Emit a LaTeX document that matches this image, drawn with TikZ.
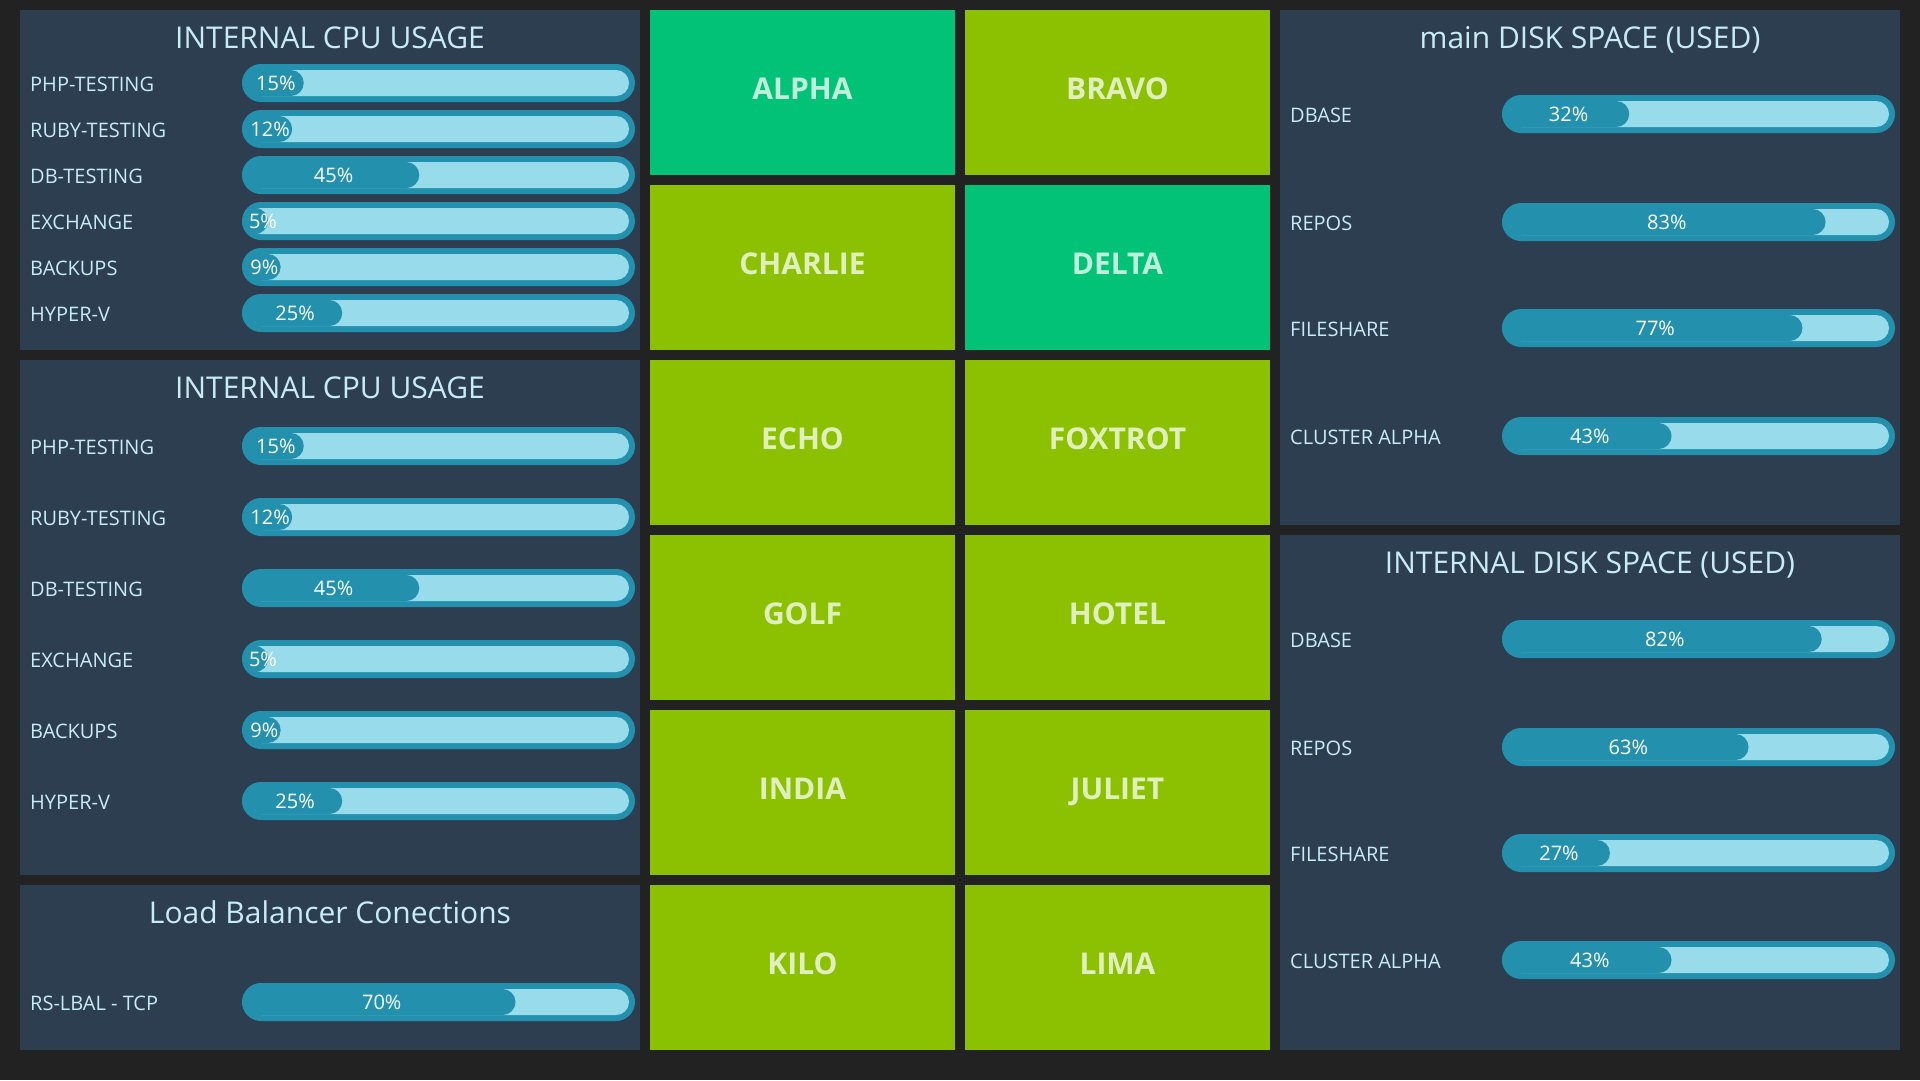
\documentclass[tikz,border=0pt]{standalone}
\usepackage{fontspec}
\setmainfont{Open Sans}
\definecolor{bgdark}{HTML}{222222}
\definecolor{panelblue}{HTML}{2C3E50}
\definecolor{tilegreen}{HTML}{01C277}
\definecolor{tilelime}{HTML}{8BC100}
\definecolor{barblue}{HTML}{2391AD}
\definecolor{barlight}{HTML}{98DBEA}
\definecolor{paneltext}{HTML}{C8ECF5}

\tikzset{
  panel/.style={fill=panelblue},
  title/.style={text=paneltext, anchor=base, inner sep=0pt, font=\fontsize{30}{34}\selectfont},
  lbl/.style={text=paneltext, anchor=west, inner sep=0pt, font=\fontsize{20}{24}\selectfont},
  pct/.style={text=white, inner sep=0pt, font=\fontsize{20}{24}\selectfont},
  tile/.style={minimum width=305pt, minimum height=165pt, inner sep=0pt,
    text=white, text opacity=0.75, text height=21pt, text depth=8pt,
    font=\fontsize{30}{34}\selectfont\bfseries},
}

% bar: name, x, y, percent
\newcommand{\usagebar}[4]{%
  \pgfmathsetmacro{\barw}{max(#4*3.85+4,26)}
  \pgfmathsetmacro{\barc}{max(\barw/2+3,21)}
  \fill[barblue, rounded corners=19pt] (#2,#3-19) rectangle ++(393,38);
  \fill[barlight, rounded corners=13pt] (#2+6,#3-13) rectangle ++(381,26);
  \fill[barblue, rounded corners=13pt] (#2,#3-13) rectangle ++(\barw,26);
  \node[pct] (#1) at (#2+\barc,#3) {#4\%};
}

\begin{document}
\begin{tikzpicture}[x=1pt,y=-1pt]
\fill[bgdark] (0,0) rectangle (1920,1080);
\useasboundingbox (0,0) rectangle (1920,1080);

%internal cpu usage
\begin{scope}
\fill[panel] (20,10) rectangle (640,350);
\node[title] (cpua) at (330,48) {INTERNAL CPU USAGE};

\node[lbl] (phpa) at (30,84) {PHP-TESTING};
\usagebar{phpapct}{242}{83}{15}
\node[lbl] (rubya) at (30,130) {RUBY-TESTING};
\usagebar{rubyapct}{242}{129}{12}
\node[lbl] (dba) at (30,176) {DB-TESTING};
\usagebar{dbapct}{242}{175}{45}
\node[lbl] (exa) at (30,222) {EXCHANGE};
\usagebar{exapct}{242}{221}{5}
\node[lbl] (bka) at (30,268) {BACKUPS};
\usagebar{bkapct}{242}{267}{9}
\node[lbl] (hva) at (30,314) {HYPER-V};
\usagebar{hvapct}{242}{313}{25}
\end{scope}

%internal cpu usage, second
\begin{scope}
\fill[panel] (20,360) rectangle (640,875);
\node[title] (cpub) at (330,398) {INTERNAL CPU USAGE};

\node[lbl] (phpb) at (30,447) {PHP-TESTING};
\usagebar{phpbpct}{242}{446}{15}
\node[lbl] (rubyb) at (30,518) {RUBY-TESTING};
\usagebar{rubybpct}{242}{517}{12}
\node[lbl] (dbb) at (30,589) {DB-TESTING};
\usagebar{dbbpct}{242}{588}{45}
\node[lbl] (exb) at (30,660) {EXCHANGE};
\usagebar{exbpct}{242}{659}{5}
\node[lbl] (bkb) at (30,731) {BACKUPS};
\usagebar{bkbpct}{242}{730}{9}
\node[lbl] (hvb) at (30,802) {HYPER-V};
\usagebar{hvbpct}{242}{801}{25}
\end{scope}

%load balancer
\begin{scope}
\fill[panel] (20,885) rectangle (640,1050);
\node[title] (lbal) at (330,923) {Load Balancer Conections};

\node[lbl] (tcp) at (30,1003) {RS-LBAL - TCP};
\usagebar{tcppct}{242}{1002}{70}
\end{scope}

%tiles
\node[tile, fill=tilegreen] (alpha) at (802.5,92.5) {ALPHA};
\node[tile, fill=tilelime] (bravo) at (1117.5,92.5) {BRAVO};
\node[tile, fill=tilelime] (charlie) at (802.5,267.5) {CHARLIE};
\node[tile, fill=tilegreen] (delta) at (1117.5,267.5) {DELTA};
\node[tile, fill=tilelime] (echo) at (802.5,442.5) {ECHO};
\node[tile, fill=tilelime] (foxtrot) at (1117.5,442.5) {FOXTROT};
\node[tile, fill=tilelime] (golf) at (802.5,617.5) {GOLF};
\node[tile, fill=tilelime] (hotel) at (1117.5,617.5) {HOTEL};
\node[tile, fill=tilelime] (india) at (802.5,792.5) {INDIA};
\node[tile, fill=tilelime] (juliet) at (1117.5,792.5) {JULIET};
\node[tile, fill=tilelime] (kilo) at (802.5,967.5) {KILO};
\node[tile, fill=tilelime] (lima) at (1117.5,967.5) {LIMA};

%main disk space
\begin{scope}
\fill[panel] (1280,10) rectangle (1900,525);
\node[title] (diska) at (1590,48) {main DISK SPACE (USED)};

\node[lbl] (dbasea) at (1290,115) {DBASE};
\usagebar{dbaseapct}{1502}{114}{32}
\node[lbl] (reposa) at (1290,223) {REPOS};
\usagebar{reposapct}{1502}{222}{83}
\node[lbl] (sharea) at (1290,329) {FILESHARE};
\usagebar{shareapct}{1502}{328}{77}
\node[lbl] (clustera) at (1290,437) {CLUSTER ALPHA};
\usagebar{clusterapct}{1502}{436}{43}
\end{scope}

%internal disk space
\begin{scope}
\fill[panel] (1280,535) rectangle (1900,1050);
\node[title] (diskb) at (1590,573) {INTERNAL DISK SPACE (USED)};

\node[lbl] (dbaseb) at (1290,640) {DBASE};
\usagebar{dbasebpct}{1502}{639}{82}
\node[lbl] (reposb) at (1290,748) {REPOS};
\usagebar{reposbpct}{1502}{747}{63}
\node[lbl] (shareb) at (1290,854) {FILESHARE};
\usagebar{sharebpct}{1502}{853}{27}
\node[lbl] (clusterb) at (1290,961) {CLUSTER ALPHA};
\usagebar{clusterbpct}{1502}{960}{43}
\end{scope}

\end{tikzpicture}
\end{document}
